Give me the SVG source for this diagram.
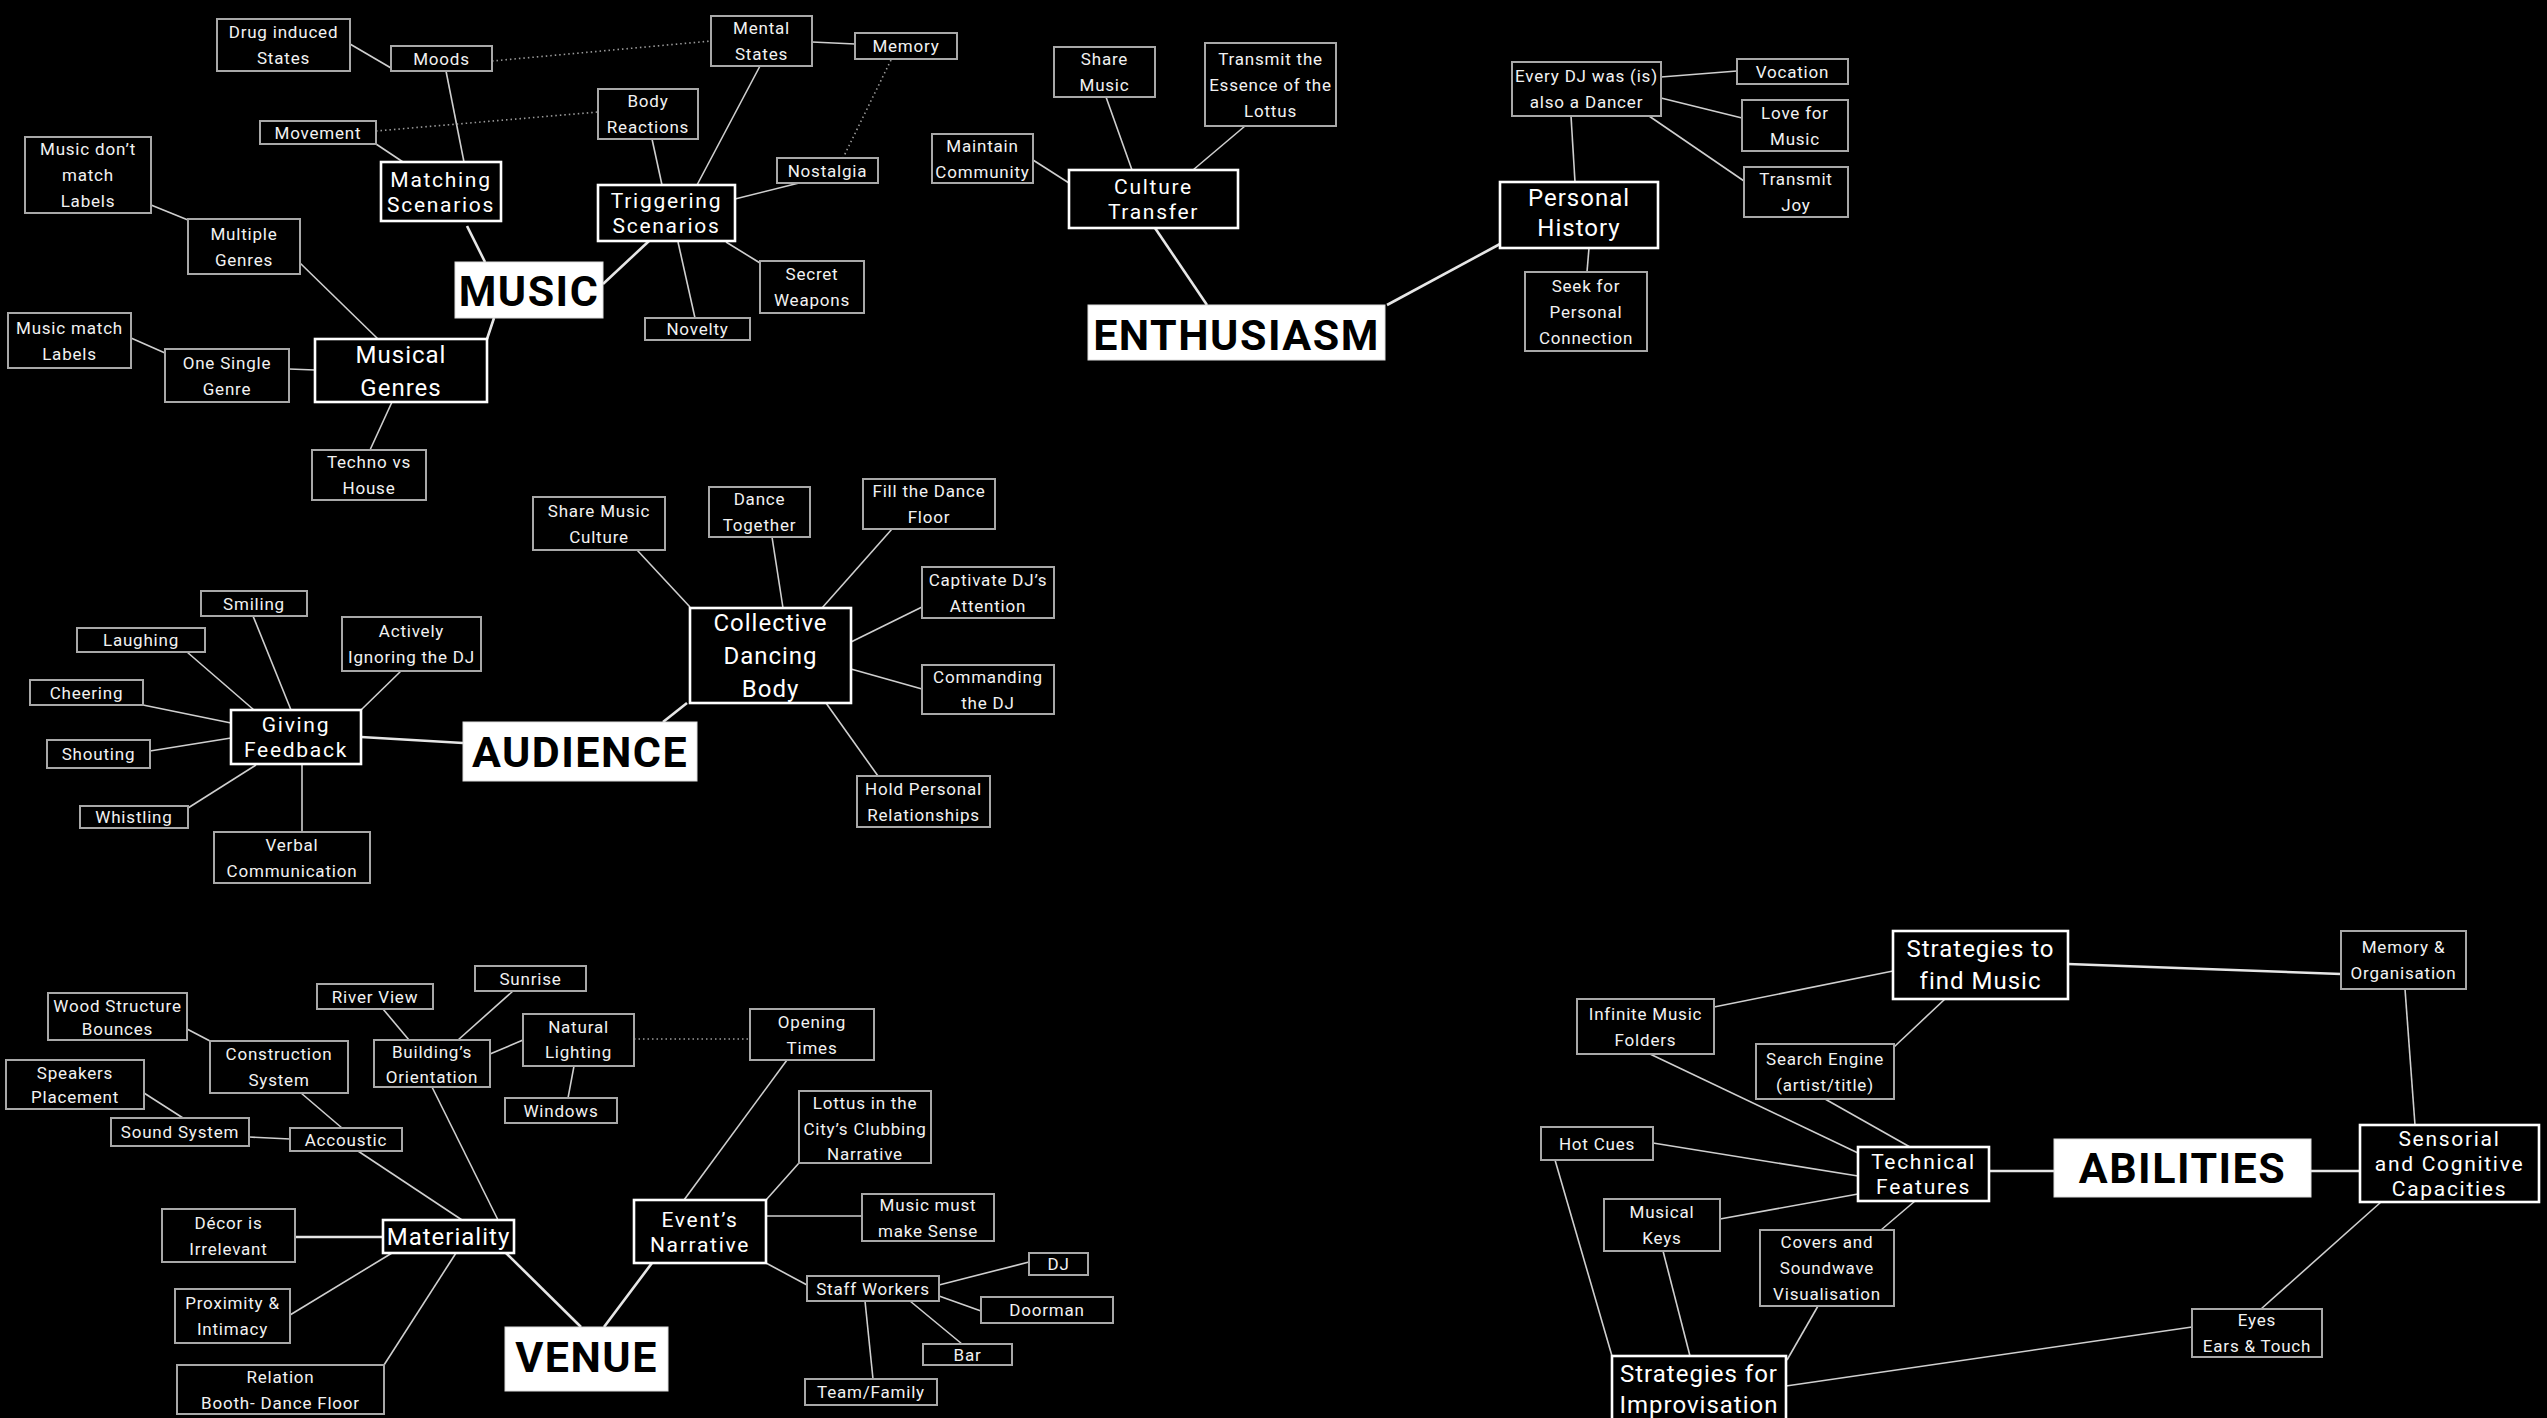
<svg xmlns="http://www.w3.org/2000/svg" width="2547" height="1418" viewBox="0 0 2547 1418">
<style>
text{font-family:Roboto,"Liberation Sans",sans-serif;text-anchor:middle}
.leaf rect{fill:#000;stroke:#a8a8a8;stroke-width:2}
.leaf text{fill:#f2f2f2;font-size:17px;letter-spacing:0.8px}
.sec rect{fill:#000;stroke:#fff;stroke-width:2.6}
.sec text{fill:#fff;font-size:24px;letter-spacing:1px}
.sec.tight text{font-size:21px;letter-spacing:1.7px}
.main rect{fill:#fff;stroke:#ddd;stroke-width:1}
.main text{fill:#000;font-size:43px;font-weight:bold;letter-spacing:1.5px}
#connectors line{stroke:#cfcfcf;stroke-width:1.6;fill:none}
#connectors line.t{stroke:#e6e6e6;stroke-width:2.6}
#connectors line.d{stroke:#9a9a9a;stroke-width:1.6;stroke-dasharray:1.5 3}
</style>
<rect x="0" y="0" width="2547" height="1418" fill="#000"/>
<g id="connectors">
<!-- MUSIC -->
<line x1="350" y1="44" x2="391" y2="68"/>
<line x1="446" y1="71" x2="464" y2="162"/>
<line class="d" x1="492" y1="61" x2="711" y2="41"/>
<line x1="812" y1="42" x2="855" y2="44"/>
<line class="d" x1="891" y1="60" x2="843" y2="158"/>
<line class="d" x1="376" y1="131" x2="598" y2="112"/>
<line x1="376" y1="144" x2="403" y2="162"/>
<line x1="652" y1="139" x2="662" y2="185"/>
<line x1="760" y1="66" x2="697" y2="185"/>
<line x1="799" y1="183" x2="735" y2="199"/>
<line class="t" x1="467" y1="226" x2="485" y2="262"/>
<line class="t" x1="649" y1="241" x2="603" y2="284"/>
<line x1="726" y1="242" x2="760" y2="263"/>
<line x1="678" y1="242" x2="695" y2="318"/>
<line x1="151" y1="205" x2="188" y2="220"/>
<line x1="300" y1="263" x2="378" y2="339"/>
<line class="t" x1="494" y1="318" x2="487" y2="339"/>
<line x1="131" y1="338" x2="165" y2="353"/>
<line x1="289" y1="369" x2="315" y2="370"/>
<line x1="392" y1="402" x2="370" y2="450"/>
<!-- ENTHUSIASM -->
<line x1="1106" y1="97" x2="1132" y2="170"/>
<line x1="1245" y1="126" x2="1193" y2="170"/>
<line x1="1033" y1="160" x2="1069" y2="183"/>
<line class="t" x1="1155" y1="228" x2="1207" y2="305"/>
<line class="t" x1="1387" y1="305" x2="1500" y2="244"/>
<line x1="1575" y1="182" x2="1571" y2="116"/>
<line x1="1661" y1="77" x2="1737" y2="71"/>
<line x1="1661" y1="98" x2="1742" y2="118"/>
<line x1="1649" y1="116" x2="1744" y2="181"/>
<line x1="1589" y1="248" x2="1587" y2="272"/>
<!-- AUDIENCE -->
<line x1="637" y1="550" x2="690" y2="607"/>
<line x1="772" y1="537" x2="783" y2="608"/>
<line x1="892" y1="529" x2="822" y2="608"/>
<line x1="922" y1="607" x2="851" y2="642"/>
<line x1="922" y1="689" x2="851" y2="669"/>
<line x1="878" y1="776" x2="826" y2="703"/>
<line class="t" x1="687" y1="703" x2="663" y2="722"/>
<line class="t" x1="361" y1="737" x2="463" y2="743"/>
<line x1="253" y1="616" x2="291" y2="710"/>
<line x1="187" y1="652" x2="254" y2="710"/>
<line x1="401" y1="671" x2="361" y2="710"/>
<line x1="143" y1="705" x2="231" y2="723"/>
<line x1="150" y1="751" x2="231" y2="738"/>
<line x1="188" y1="808" x2="256" y2="765"/>
<line x1="302" y1="832" x2="302" y2="764"/>
<!-- VENUE -->
<line x1="383" y1="1009" x2="409" y2="1040"/>
<line x1="513" y1="991" x2="458" y2="1040"/>
<line x1="187" y1="1029" x2="210" y2="1041"/>
<line x1="523" y1="1040" x2="490" y2="1054"/>
<line class="d" x1="634" y1="1039" x2="750" y2="1039"/>
<line x1="568" y1="1098" x2="574" y2="1066"/>
<line x1="301" y1="1093" x2="342" y2="1128"/>
<line x1="144" y1="1093" x2="183" y2="1118"/>
<line x1="249" y1="1137" x2="290" y2="1139"/>
<line x1="358" y1="1151" x2="462" y2="1220"/>
<line x1="432" y1="1087" x2="498" y2="1220"/>
<line x1="787" y1="1060" x2="684" y2="1200"/>
<line x1="799" y1="1163" x2="766" y2="1200"/>
<line x1="862" y1="1216" x2="766" y2="1216"/>
<line class="t" x1="295" y1="1237" x2="383" y2="1237"/>
<line x1="290" y1="1315" x2="392" y2="1253"/>
<line x1="384" y1="1365" x2="456" y2="1253"/>
<line class="t" x1="506" y1="1253" x2="581" y2="1327"/>
<line class="t" x1="604" y1="1327" x2="652" y2="1263"/>
<line x1="766" y1="1263" x2="807" y2="1285"/>
<line x1="939" y1="1285" x2="1029" y2="1262"/>
<line x1="939" y1="1296" x2="981" y2="1311"/>
<line x1="910" y1="1301" x2="962" y2="1344"/>
<line x1="865" y1="1301" x2="873" y2="1379"/>
<!-- ABILITIES -->
<line class="t" x1="2068" y1="964" x2="2341" y2="974"/>
<line x1="1714" y1="1007" x2="1893" y2="971"/>
<line x1="1894" y1="1047" x2="1945" y2="999"/>
<line x1="1650" y1="1054" x2="1858" y2="1153"/>
<line x1="1825" y1="1099" x2="1910" y2="1147"/>
<line x1="1653" y1="1143" x2="1858" y2="1176"/>
<line x1="1720" y1="1219" x2="1858" y2="1194"/>
<line x1="1915" y1="1201" x2="1881" y2="1230"/>
<line class="t" x1="1989" y1="1171" x2="2054" y2="1171"/>
<line class="t" x1="2311" y1="1171" x2="2360" y2="1171"/>
<line x1="2405" y1="989" x2="2415" y2="1125"/>
<line x1="2381" y1="1202" x2="2261" y2="1309"/>
<line x1="2192" y1="1327" x2="1786" y2="1386"/>
<line x1="1555" y1="1160" x2="1612" y2="1356"/>
<line x1="1663" y1="1251" x2="1690" y2="1356"/>
<line x1="1818" y1="1306" x2="1787" y2="1360"/>
</g>

<!-- MUSIC cluster -->
<g id="n-drug" class="leaf"><rect x="217" y="19" width="133" height="52"/><text x="283.5" y="38">Drug induced</text><text x="283.5" y="64">States</text></g>
<g id="n-moods" class="leaf"><rect x="391" y="46" width="101" height="25"/><text x="441.5" y="64.5">Moods</text></g>
<g id="n-mental" class="leaf"><rect x="711" y="16" width="101" height="50"/><text x="761.5" y="34">Mental</text><text x="761.5" y="60">States</text></g>
<g id="n-memory" class="leaf"><rect x="855" y="33" width="102" height="26"/><text x="906" y="52">Memory</text></g>
<g id="n-body" class="leaf"><rect x="598" y="89" width="100" height="50"/><text x="648" y="107">Body</text><text x="648" y="133">Reactions</text></g>
<g id="n-movement" class="leaf"><rect x="260" y="121" width="116" height="23"/><text x="318" y="138.5">Movement</text></g>
<g id="n-nomatch" class="leaf"><rect x="25" y="137" width="126" height="76"/><text x="88" y="155">Music don’t</text><text x="88" y="181">match</text><text x="88" y="207">Labels</text></g>
<g id="n-matching" class="sec tight"><rect x="381" y="162" width="120" height="59"/><text x="441" y="186.5">Matching</text><text x="441" y="211.5">Scenarios</text></g>
<g id="n-triggering" class="sec tight"><rect x="598" y="185" width="137" height="56"/><text x="666.5" y="208">Triggering</text><text x="666.5" y="233">Scenarios</text></g>
<g id="n-nostalgia" class="leaf"><rect x="777" y="158" width="101" height="25"/><text x="827.5" y="176.5">Nostalgia</text></g>
<g id="n-multiple" class="leaf"><rect x="188" y="219" width="112" height="55"/><text x="244" y="239.5">Multiple</text><text x="244" y="265.5">Genres</text></g>
<g id="n-music" class="main"><rect x="455" y="262" width="148" height="56"/><text x="529" y="306">MUSIC</text></g>
<g id="n-secret" class="leaf"><rect x="760" y="261" width="104" height="52"/><text x="812" y="280">Secret</text><text x="812" y="306">Weapons</text></g>
<g id="n-novelty" class="leaf"><rect x="645" y="318" width="105" height="22"/><text x="697.5" y="335">Novelty</text></g>
<g id="n-match" class="leaf"><rect x="8" y="313" width="123" height="55"/><text x="69.5" y="333.5">Music match</text><text x="69.5" y="359.5">Labels</text></g>
<g id="n-single" class="leaf"><rect x="165" y="349" width="124" height="53"/><text x="227" y="368.5">One Single</text><text x="227" y="394.5">Genre</text></g>
<g id="n-genres" class="sec"><rect x="315" y="339" width="172" height="63"/><text x="401" y="362.5">Musical</text><text x="401" y="395.5">Genres</text></g>
<g id="n-techno" class="leaf"><rect x="312" y="450" width="114" height="50"/><text x="369" y="468">Techno vs</text><text x="369" y="494">House</text></g>

<!-- ENTHUSIASM cluster -->
<g id="n-sharemusic" class="leaf"><rect x="1054" y="47" width="101" height="50"/><text x="1104.5" y="65">Share</text><text x="1104.5" y="91">Music</text></g>
<g id="n-essence" class="leaf"><rect x="1205" y="43" width="131" height="83"/><text x="1270.5" y="64.5">Transmit the</text><text x="1270.5" y="90.5">Essence of the</text><text x="1270.5" y="116.5">Lottus</text></g>
<g id="n-community" class="leaf"><rect x="932" y="134" width="101" height="49"/><text x="982.5" y="151.5">Maintain</text><text x="982.5" y="177.5">Community</text></g>
<g id="n-culture" class="sec tight"><rect x="1069" y="170" width="169" height="58"/><text x="1153.5" y="194">Culture</text><text x="1153.5" y="219">Transfer</text></g>
<g id="n-enthusiasm" class="main"><rect x="1088" y="305" width="297" height="55"/><text x="1236.5" y="350">ENTHUSIASM</text></g>
<g id="n-everydj" class="leaf"><rect x="1512" y="62" width="149" height="54"/><text x="1586.5" y="82">Every DJ was (is)</text><text x="1586.5" y="108">also a Dancer</text></g>
<g id="n-vocation" class="leaf"><rect x="1737" y="59" width="111" height="25"/><text x="1792.5" y="77.5">Vocation</text></g>
<g id="n-love" class="leaf"><rect x="1742" y="100" width="106" height="51"/><text x="1795" y="118.5">Love for</text><text x="1795" y="144.5">Music</text></g>
<g id="n-joy" class="leaf"><rect x="1744" y="167" width="104" height="50"/><text x="1796" y="185">Transmit</text><text x="1796" y="211">Joy</text></g>
<g id="n-history" class="sec"><rect x="1500" y="182" width="158" height="66"/><text x="1579" y="206">Personal</text><text x="1579" y="235.5">History</text></g>
<g id="n-seek" class="leaf"><rect x="1525" y="272" width="122" height="79"/><text x="1586" y="291.5">Seek for</text><text x="1586" y="317.5">Personal</text><text x="1586" y="343.5">Connection</text></g>

<!-- AUDIENCE cluster -->
<g id="n-shareculture" class="leaf"><rect x="533" y="497" width="132" height="53"/><text x="599" y="516.5">Share Music</text><text x="599" y="542.5">Culture</text></g>
<g id="n-dance" class="leaf"><rect x="709" y="487" width="101" height="50"/><text x="759.5" y="505">Dance</text><text x="759.5" y="531">Together</text></g>
<g id="n-fill" class="leaf"><rect x="863" y="479" width="132" height="50"/><text x="929" y="497">Fill the Dance</text><text x="929" y="523">Floor</text></g>
<g id="n-captivate" class="leaf"><rect x="922" y="567" width="132" height="51"/><text x="988" y="585.5">Captivate DJ’s</text><text x="988" y="611.5">Attention</text></g>
<g id="n-collective" class="sec"><rect x="690" y="608" width="161" height="95"/><text x="770.5" y="631">Collective</text><text x="770.5" y="664">Dancing</text><text x="770.5" y="697">Body</text></g>
<g id="n-commanding" class="leaf"><rect x="922" y="665" width="132" height="49"/><text x="988" y="682.5">Commanding</text><text x="988" y="708.5">the DJ</text></g>
<g id="n-hold" class="leaf"><rect x="857" y="776" width="133" height="51"/><text x="923.5" y="794.5">Hold Personal</text><text x="923.5" y="820.5">Relationships</text></g>
<g id="n-audience" class="main"><rect x="463" y="722" width="234" height="59"/><text x="580" y="767">AUDIENCE</text></g>
<g id="n-smiling" class="leaf"><rect x="201" y="591" width="106" height="25"/><text x="254" y="609.5">Smiling</text></g>
<g id="n-laughing" class="leaf"><rect x="77" y="628" width="128" height="24"/><text x="141" y="646">Laughing</text></g>
<g id="n-ignoring" class="leaf"><rect x="342" y="617" width="139" height="54"/><text x="411.5" y="637">Actively</text><text x="411.5" y="663">Ignoring the DJ</text></g>
<g id="n-cheering" class="leaf"><rect x="30" y="680" width="113" height="25"/><text x="86.5" y="698.5">Cheering</text></g>
<g id="n-feedback" class="sec tight"><rect x="231" y="710" width="130" height="54"/><text x="296" y="732">Giving</text><text x="296" y="757">Feedback</text></g>
<g id="n-shouting" class="leaf"><rect x="47" y="740" width="103" height="28"/><text x="98.5" y="760">Shouting</text></g>
<g id="n-whistling" class="leaf"><rect x="80" y="806" width="108" height="22"/><text x="134" y="823">Whistling</text></g>
<g id="n-verbal" class="leaf"><rect x="214" y="832" width="156" height="51"/><text x="292" y="850.5">Verbal</text><text x="292" y="876.5">Communication</text></g>

<!-- VENUE cluster -->
<g id="n-sunrise" class="leaf"><rect x="475" y="966" width="111" height="25"/><text x="530.5" y="984.5">Sunrise</text></g>
<g id="n-river" class="leaf"><rect x="317" y="984" width="116" height="25"/><text x="375" y="1002.5">River View</text></g>
<g id="n-wood" class="leaf"><rect x="48" y="993" width="139" height="47"/><text x="117.5" y="1012">Wood Structure</text><text x="117.5" y="1035">Bounces</text></g>
<g id="n-natural" class="leaf"><rect x="523" y="1014" width="111" height="52"/><text x="578.5" y="1033">Natural</text><text x="578.5" y="1058">Lighting</text></g>
<g id="n-opening" class="leaf"><rect x="750" y="1009" width="124" height="51"/><text x="812" y="1027.5">Opening</text><text x="812" y="1053.5">Times</text></g>
<g id="n-construction" class="leaf"><rect x="210" y="1041" width="138" height="52"/><text x="279" y="1060">Construction</text><text x="279" y="1086">System</text></g>
<g id="n-orientation" class="leaf"><rect x="374" y="1040" width="116" height="47"/><text x="432" y="1058">Building’s</text><text x="432" y="1083">Orientation</text></g>
<g id="n-speakers" class="leaf"><rect x="6" y="1060" width="138" height="49"/><text x="75" y="1079">Speakers</text><text x="75" y="1103">Placement</text></g>
<g id="n-windows" class="leaf"><rect x="505" y="1098" width="112" height="25"/><text x="561" y="1116.5">Windows</text></g>
<g id="n-sound" class="leaf"><rect x="111" y="1118" width="138" height="28"/><text x="180" y="1138">Sound System</text></g>
<g id="n-accoustic" class="leaf"><rect x="290" y="1128" width="112" height="23"/><text x="346" y="1145.5">Accoustic</text></g>
<g id="n-lottus" class="leaf"><rect x="799" y="1091" width="132" height="72"/><text x="865" y="1109">Lottus in the</text><text x="865" y="1135">City’s Clubbing</text><text x="865" y="1160">Narrative</text></g>
<g id="n-event" class="sec tight"><rect x="634" y="1200" width="132" height="63"/><text x="700" y="1226.5">Event’s</text><text x="700" y="1251.5">Narrative</text></g>
<g id="n-sense" class="leaf"><rect x="862" y="1194" width="132" height="47"/><text x="928" y="1210.5">Music must</text><text x="928" y="1236.5">make Sense</text></g>
<g id="n-materiality" class="sec"><rect x="383" y="1220" width="131" height="33"/><text x="448.5" y="1245">Materiality</text></g>
<g id="n-decor" class="leaf"><rect x="162" y="1209" width="133" height="53"/><text x="228.5" y="1228.5">Décor is</text><text x="228.5" y="1254.5">Irrelevant</text></g>
<g id="n-dj" class="leaf"><rect x="1029" y="1253" width="59" height="22"/><text x="1058.5" y="1270">DJ</text></g>
<g id="n-staff" class="leaf"><rect x="807" y="1276" width="132" height="25"/><text x="873" y="1294.5">Staff Workers</text></g>
<g id="n-doorman" class="leaf"><rect x="981" y="1297" width="132" height="26"/><text x="1047" y="1316">Doorman</text></g>
<g id="n-proximity" class="leaf"><rect x="175" y="1289" width="115" height="54"/><text x="232.5" y="1309">Proximity &amp;</text><text x="232.5" y="1335">Intimacy</text></g>
<g id="n-bar" class="leaf"><rect x="923" y="1344" width="89" height="21"/><text x="967.5" y="1360.5">Bar</text></g>
<g id="n-venue" class="main"><rect x="505" y="1327" width="163" height="64"/><text x="586.5" y="1372">VENUE</text></g>
<g id="n-relation" class="leaf"><rect x="177" y="1365" width="207" height="49"/><text x="280.5" y="1382.5">Relation</text><text x="280.5" y="1408.5">Booth- Dance Floor</text></g>
<g id="n-team" class="leaf"><rect x="805" y="1379" width="132" height="26"/><text x="871" y="1398">Team/Family</text></g>

<!-- ABILITIES cluster -->
<g id="n-findmusic" class="sec"><rect x="1893" y="931" width="175" height="68"/><text x="1980.5" y="957">Strategies to</text><text x="1980.5" y="988.5">find Music</text></g>
<g id="n-memorg" class="leaf"><rect x="2341" y="931" width="125" height="58"/><text x="2403.5" y="953">Memory &amp;</text><text x="2403.5" y="979">Organisation</text></g>
<g id="n-folders" class="leaf"><rect x="1577" y="999" width="137" height="55"/><text x="1645.5" y="1019.5">Infinite Music</text><text x="1645.5" y="1045.5">Folders</text></g>
<g id="n-search" class="leaf"><rect x="1756" y="1044" width="138" height="55"/><text x="1825" y="1064.5">Search Engine</text><text x="1825" y="1090.5">(artist/title)</text></g>
<g id="n-hotcues" class="leaf"><rect x="1541" y="1127" width="112" height="33"/><text x="1597" y="1149.5">Hot Cues</text></g>
<g id="n-technical" class="sec tight"><rect x="1858" y="1147" width="131" height="54"/><text x="1923.5" y="1169">Technical</text><text x="1923.5" y="1194">Features</text></g>
<g id="n-abilities" class="main"><rect x="2054" y="1139" width="257" height="58"/><text x="2182.5" y="1182.5">ABILITIES</text></g>
<g id="n-sensorial" class="sec tight"><rect x="2360" y="1125" width="179" height="77"/><text x="2449.5" y="1146">Sensorial</text><text x="2449.5" y="1171">and Cognitive</text><text x="2449.5" y="1196">Capacities</text></g>
<g id="n-keys" class="leaf"><rect x="1604" y="1199" width="116" height="52"/><text x="1662" y="1218">Musical</text><text x="1662" y="1244">Keys</text></g>
<g id="n-covers" class="leaf"><rect x="1760" y="1230" width="134" height="76"/><text x="1827" y="1248">Covers and</text><text x="1827" y="1274">Soundwave</text><text x="1827" y="1300">Visualisation</text></g>
<g id="n-eyes" class="leaf"><rect x="2192" y="1309" width="130" height="48"/><text x="2257" y="1326">Eyes</text><text x="2257" y="1352">Ears &amp; Touch</text></g>
<g id="n-improv" class="sec"><rect x="1612" y="1356" width="174" height="80"/><text x="1699" y="1381.5">Strategies for</text><text x="1699" y="1412.5">Improvisation</text></g>
</svg>
